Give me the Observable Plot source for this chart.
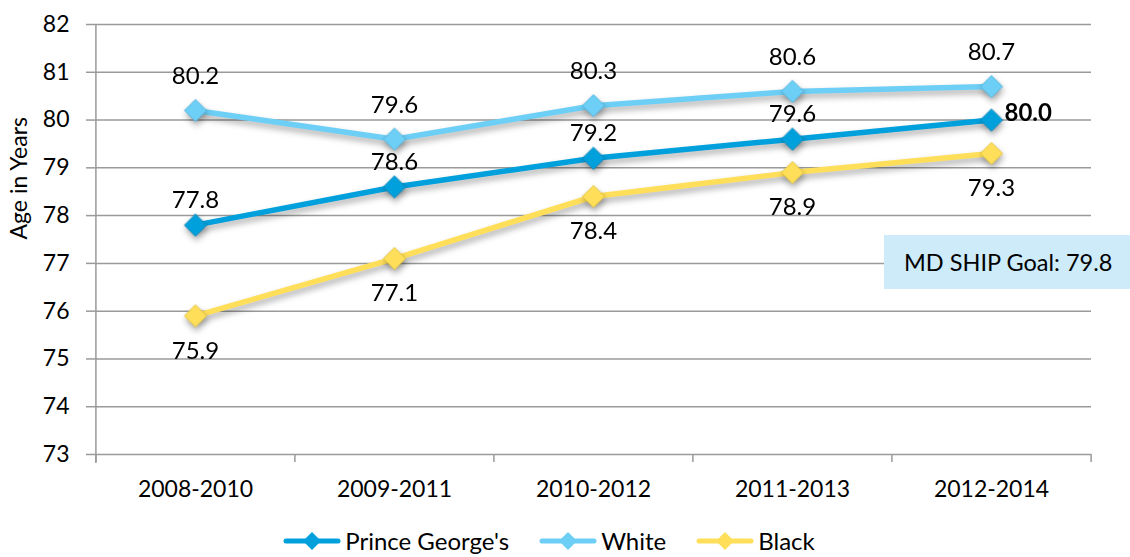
<!DOCTYPE html>
<html><head><meta charset="utf-8">
<script src="https://cdn.jsdelivr.net/npm/d3@7"></script>
<script src="https://cdn.jsdelivr.net/npm/@observablehq/plot@0.6"></script>
<style>
body{margin:0;background:#fff;font-family:Lato,"Open Sans",sans-serif;color:#000;}
#wrap{position:relative;width:1130px;height:557px;overflow:hidden;}
#goal{position:absolute;left:884px;top:235px;width:260px;height:54px;background:#cdebf9;font-size:23.5px;line-height:54px;padding-left:20px;box-sizing:border-box;white-space:nowrap;}
#legend{position:absolute;left:-16px;top:526px;width:1130px;height:30px;display:flex;justify-content:center;align-items:center;gap:30px;font-size:24px;line-height:26px;}
.item{display:flex;align-items:center;gap:4px;white-space:nowrap;}
</style>
</head><body>
<div id="wrap"><div id="chart"></div><div id="goal"></div><div id="legend"></div></div>
<script>
const periods = ["2008-2010","2009-2011","2010-2012","2011-2013","2012-2014"];
const princeGeorges = [77.8, 78.6, 79.2, 79.6, 80.0];
const white = [80.2, 79.6, 80.3, 80.6, 80.7];
const black = [75.9, 77.1, 78.4, 78.9, 79.3];
const seriesNames = ["Prince George's", "White", "Black"];
const yTicks = [73, 74, 75, 76, 77, 78, 79, 80, 81, 82];
const goalText = "MD SHIP Goal: 79.8";
const yTitle = "Age in Years";

const colors = ["#00a0dd", "#6dcff6", "#ffdf5a"];
const edge = ["#0b86b8", "#55b5de", "#e2c23e"];

const seriesValues = [princeGeorges, white, black];
const rows = [];
seriesNames.forEach((s, i) => periods.forEach((p, j) => rows.push({series: s, period: p, value: seriesValues[i][j], idx: j})));
const lastIdx = periods.length - 1;

const W = 1130, H = 557, ml = 95, mr = 39, mt = 24, mb = 103;
const step = (W - ml - mr) / periods.length;
const shadow = "drop-shadow(1px 4px 3px rgba(0,0,0,0.32))";
const font = "Lato, 'Open Sans', sans-serif";
const labelSize = 24;

const marks = [
  Plot.gridY(yTicks, {stroke: "#9a9a9a", strokeOpacity: 1, strokeWidth: 1.5}),
  Plot.ruleX([periods[0]], {dx: -step / 2, y1: yTicks[yTicks.length - 1], y2: yTicks[0], insetBottom: -9, stroke: "#9a9a9a", strokeWidth: 1.5}),
  Plot.axisY(yTicks, {tickSize: 9, tickPadding: 17, stroke: "#9a9a9a", strokeWidth: 1.5, fontSize: 23, fill: "#000", label: null}),
  Plot.axisX({tickSize: 8, dx: -step / 2, text: null, stroke: "#9a9a9a", strokeWidth: 1.5, label: null}),
  Plot.axisX([periods[lastIdx]], {tickSize: 8, dx: step / 2, text: null, stroke: "#9a9a9a", strokeWidth: 1.5, label: null}),
  Plot.axisX({tickSize: 0, tickPadding: 26, fontSize: 23, fill: "#000", label: null}),
  Plot.text([yTitle], {text: d => d, frameAnchor: "left", rotate: -90, dx: -76, fontSize: 23, fill: "#000"})
];
seriesNames.forEach((s, i) => {
  const d = rows.filter(r => r.series === s);
  marks.push(Plot.line(d, {x: "period", y: "value", stroke: colors[i], strokeWidth: 5.5, imageFilter: shadow}));
  marks.push(Plot.dot(d, {x: "period", y: "value", symbol: "diamond2", r: 10, fill: colors[i], stroke: edge[i], strokeWidth: 1, imageFilter: shadow}));
});
// labels
marks.push(Plot.text(rows.filter(r => r.series === "White"), {x: "period", y: "value", text: r => r.value.toFixed(1), dy: -34, fontSize: labelSize, fill: "#000"}));
marks.push(Plot.text(rows.filter(r => r.series === "Prince George's" && r.idx < lastIdx), {x: "period", y: "value", text: r => r.value.toFixed(1), dy: -25, fontSize: labelSize, fill: "#000"}));
marks.push(Plot.text(rows.filter(r => r.series === "Prince George's" && r.idx === lastIdx), {x: "period", y: "value", text: r => r.value.toFixed(1), dx: 13, dy: -7, textAnchor: "start", fontWeight: "bold", fontSize: labelSize, fill: "#000"}));
marks.push(Plot.text(rows.filter(r => r.series === "Black"), {x: "period", y: "value", text: r => r.value.toFixed(1), dy: 35, fontSize: labelSize, fill: "#000"}));

const chart = Plot.plot({
  width: W, height: H, marginLeft: ml, marginRight: mr, marginTop: mt, marginBottom: mb,
  style: {fontFamily: font, background: "transparent", color: "#000", overflow: "visible"},
  x: {type: "point", domain: periods, padding: 0.5, label: null, axis: null},
  y: {domain: [yTicks[0], yTicks[yTicks.length - 1]], label: null, axis: null},
  marks
});
document.getElementById("chart").appendChild(chart);
document.getElementById("goal").textContent = goalText;

const legend = document.getElementById("legend");
seriesNames.forEach((s, i) => {
  const item = document.createElement("div");
  item.className = "item";
  item.innerHTML = `<svg width="58" height="22" viewBox="0 0 58 22"><line x1="3" y1="11" x2="55" y2="11" stroke="${colors[i]}" stroke-width="5" stroke-linecap="round"/><path d="M29 2 L38 11 L29 20 L20 11 Z" fill="${colors[i]}"/></svg><span>${s}</span>`;
  legend.appendChild(item);
});
</script>
</body></html>
